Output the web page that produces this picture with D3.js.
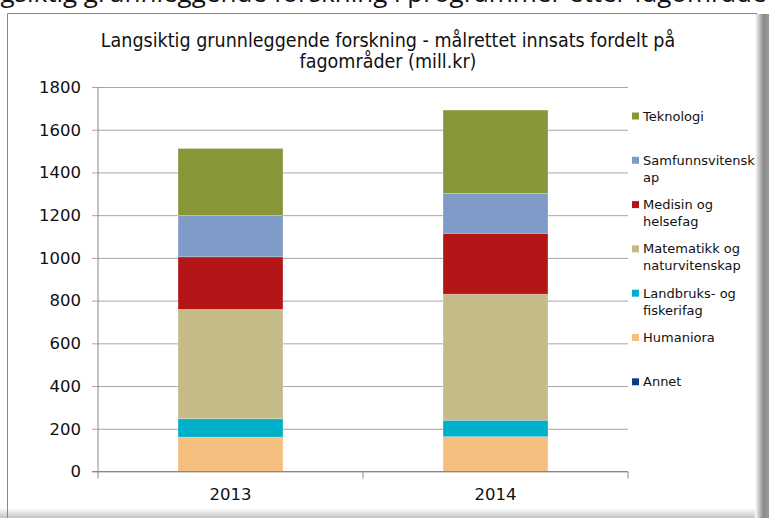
<!DOCTYPE html>
<html>
<head>
<meta charset="utf-8">
<script src="https://cdn.jsdelivr.net/npm/d3@7"></script>
<style>
  body { margin: 0; background: #fff; }
  svg { display: block; }
</style>
</head>
<body>
<svg width="769" height="518"></svg>
<script>
// data (mill.kr)
const years = ["2013", "2014"];
const fields = ["Annet", "Humaniora", "Landbruks- og fiskerifag", "Matematikk og naturvitenskap",
  "Medisin og helsefag", "Samfunnsvitenskap", "Teknologi"];
const annet = [0, 0];
const humaniora = [161, 163];
const landbruk = [86, 77];
const matematikk = [512, 590];
const medisin = [246, 285];
const samfunn = [194, 187];
const teknologi = [313, 390];
const colors = ["#0f3d8c", "#f5c07f", "#00afc8", "#c4bb89", "#b41516", "#7f9bc7", "#889638"];
// legend labels as broken in the original
const legendLines = [["Annet"], ["Humaniora"], ["Landbruks- og", "fiskerifag"],
  ["Matematikk og", "naturvitenskap"], ["Medisin og", "helsefag"],
  ["Samfunnsvitensk", "ap"], ["Teknologi"]];
const yTicks = [0, 200, 400, 600, 800, 1000, 1200, 1400, 1600, 1800];

const series = [annet, humaniora, landbruk, matematikk, medisin, samfunn, teknologi];
const rows = years.map((yr, i) => {
  const r = { year: yr };
  fields.forEach((f, k) => (r[f] = series[k][i]));
  return r;
});

const svg = d3.select("svg");
const plot = { left: 98, right: 628, top: 87, bottom: 471.5 };

// frame + shadow
const defs = svg.append("defs");
const gr = defs.append("linearGradient").attr("id", "shR").attr("x1", 0).attr("x2", 1).attr("y1", 0).attr("y2", 0);
gr.append("stop").attr("offset", "0%").attr("stop-color", "#fff");
gr.append("stop").attr("offset", "60%").attr("stop-color", "#8a8a8a");
gr.append("stop").attr("offset", "100%").attr("stop-color", "#9a9a9a");
const gb = defs.append("linearGradient").attr("id", "shB").attr("x1", 0).attr("x2", 0).attr("y1", 0).attr("y2", 1);
gb.append("stop").attr("offset", "0%").attr("stop-color", "#fff");
gb.append("stop").attr("offset", "100%").attr("stop-color", "#c4c4c4");

svg.append("rect").attr("x", 0).attr("y", 508).attr("width", 769).attr("height", 10).attr("fill", "url(#shB)");
svg.append("rect").attr("x", 755).attr("y", 14).attr("width", 14).attr("height", 504).attr("fill", "url(#shR)");
svg.append("path").attr("d", "M7.5,518V13.5H757").attr("fill", "none").attr("stroke", "#888");

// cut-off line of document text above the chart (only its lower edge is visible)
svg.append("text").attr("x", 384).attr("y", 2).attr("text-anchor", "middle")
  .style("font", "26px 'Open Sans', sans-serif").attr("fill", "#111")
  .text("Beregnet langsiktig grunnleggende forskning i programmer etter fagområde og teknologi");

// title
const title = svg.append("text").attr("text-anchor", "middle")
  .style("font", "19.5px 'DejaVu Sans Condensed', 'DejaVu Sans', sans-serif").attr("fill", "#111");
title.append("tspan").attr("x", 388).attr("y", 47).text("Langsiktig grunnleggende forskning - målrettet innsats fordelt på");
title.append("tspan").attr("x", 388).attr("y", 68).text("fagområder (mill.kr)");

const x = d3.scaleBand().domain(years).range([plot.left, plot.right]);
const barW = x.bandwidth() * 0.396;
const y = d3.scaleLinear().domain([0, 1800]).range([plot.bottom, plot.top]);

// gridlines
svg.append("g")
  .attr("transform", `translate(${plot.left},0)`)
  .call(d3.axisLeft(y).tickValues(yTicks).tickSize(-(plot.right - plot.left)).tickFormat(""))
  .call((g) => g.select(".domain").remove())
  .call((g) => g.selectAll("line").attr("stroke", "#a6a6a6"));

// bars
const stack = d3.stack().keys(fields);
svg.append("g").selectAll("g")
  .data(stack(rows))
  .join("g")
  .attr("fill", (d, i) => colors[i])
  .selectAll("rect")
  .data((d) => d)
  .join("rect")
  .attr("x", (d) => x(d.data.year) + (x.bandwidth() - barW) / 2)
  .attr("width", barW)
  .attr("y", (d) => y(d[1]))
  .attr("height", (d) => y(d[0]) - y(d[1]))
  .attr("stroke", "rgba(255,255,255,0.3)")
  .attr("stroke-width", 0.8);

// y axis
const yAxis = svg.append("g")
  .attr("transform", `translate(${plot.left},0)`)
  .call(d3.axisLeft(y).tickValues(yTicks).tickFormat(d3.format("d")).tickSize(6).tickPadding(11).tickSizeOuter(0))
  .call((g) => g.select(".domain").remove());
yAxis.selectAll("line").attr("stroke", "#a6a6a6");
yAxis.selectAll("text").style("font", "16.5px 'DejaVu Sans', Verdana, sans-serif").attr("fill", "#111");
svg.append("line").attr("x1", plot.left).attr("x2", plot.left)
  .attr("y1", y(1800)).attr("y2", y(0) + 7).attr("stroke", "#888");

// x axis
const xAxis = svg.append("g")
  .attr("transform", `translate(0,${plot.bottom})`)
  .call(d3.axisBottom(x).tickSize(0).tickPadding(17))
  .call((g) => g.select(".domain").attr("stroke", "#888").attr("d", `M${plot.left - 6},0H${plot.right}`));
xAxis.selectAll("text").style("font", "16.5px 'DejaVu Sans', Verdana, sans-serif").attr("fill", "#111");
xAxis.selectAll(".sep")
  .data(years.slice(1).concat("end"))
  .join("line")
  .attr("class", "sep")
  .attr("x1", (d) => (d === "end" ? plot.right : x(d)))
  .attr("x2", (d) => (d === "end" ? plot.right : x(d)))
  .attr("y1", 0).attr("y2", 7).attr("stroke", "#888");

// legend, top entry = last stacked series
const legend = svg.append("g").selectAll("g")
  .data(fields.map((f, i) => i).reverse())
  .join("g")
  .attr("transform", (d, j) => `translate(632,${116 + j * 44.3})`);
legend.append("rect").attr("x", 0).attr("y", -3.5).attr("width", 7).attr("height", 7)
  .attr("fill", (i) => colors[i]);
legend.append("text")
  .style("font", "13px 'DejaVu Sans', Verdana, sans-serif").attr("fill", "#111")
  .selectAll("tspan")
  .data((i) => legendLines[i])
  .join("tspan")
  .attr("x", 11)
  .attr("y", (d, k) => 4.5 + k * 17)
  .text((d) => d);
</script>
</body>
</html>
